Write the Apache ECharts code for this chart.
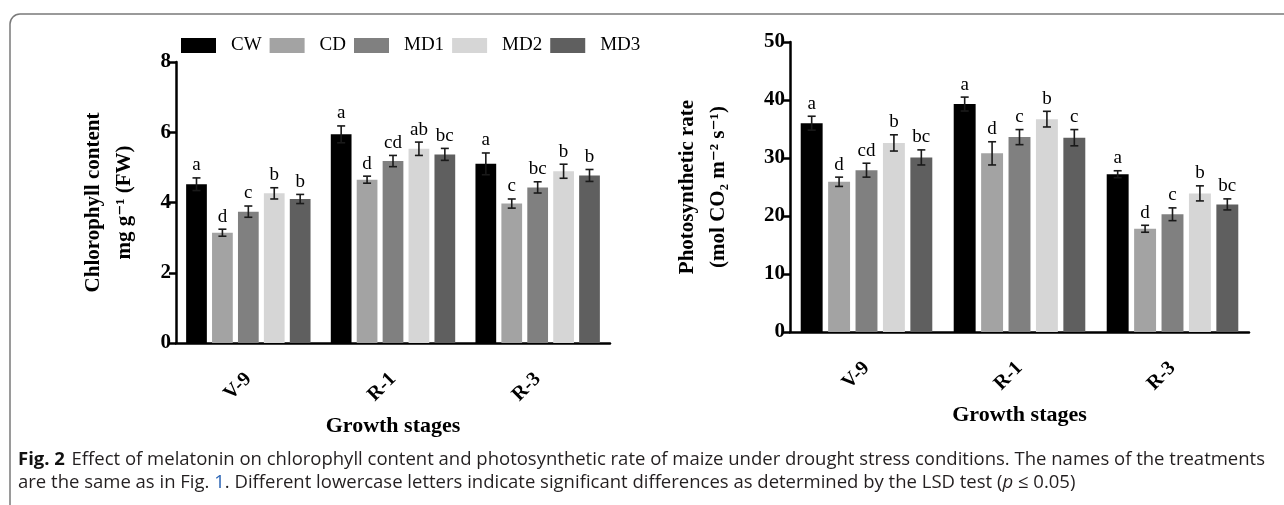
<!DOCTYPE html>
<html>
<head>
<meta charset="utf-8">
<script src="https://cdn.jsdelivr.net/npm/echarts@6/dist/echarts.min.js"></script>
<style>
  html, body { margin: 0; padding: 0; background: #fff; }
  #chart { width: 1284px; height: 505px; }
</style>
</head>
<body>
<div id="chart"></div>
<script>
// categories and treatments
const stages = ['V-9', 'R-1', 'R-3'];
const treatments = ['CW', 'CD', 'MD1', 'MD2', 'MD3'];
const barColors = ['#000000', '#a3a3a3', '#808080', '#d6d6d6', '#5f5f5f'];

// chlorophyll content, one row per treatment (V-9, R-1, R-3)
const chlMean = [[4.52, 5.94, 5.1], [3.14, 4.65, 3.97], [3.74, 5.18, 4.43], [4.26, 5.53, 4.89], [4.1, 5.37, 4.77]];
const chlErr = [[0.18, 0.24, 0.31], [0.1, 0.1, 0.13], [0.16, 0.16, 0.16], [0.16, 0.19, 0.2], [0.13, 0.17, 0.17]];
const chlLetter = [['a', 'a', 'a'], ['d', 'd', 'c'], ['c', 'cd', 'bc'], ['b', 'ab', 'b'], ['b', 'bc', 'b']];

// photosynthetic rate
const psMean = [[36.0, 39.3, 27.2], [25.9, 30.8, 17.8], [27.9, 33.6, 20.3], [32.6, 36.7, 23.9], [30.1, 33.5, 22.0]];
const psErr = [[1.2, 1.2, 0.6], [0.8, 2.0, 0.6], [1.2, 1.3, 1.1], [1.4, 1.35, 1.3], [1.3, 1.4, 0.95]];
const psLetter = [['a', 'a', 'a'], ['d', 'd', 'd'], ['cd', 'c', 'c'], ['b', 'b', 'b'], ['bc', 'c', 'bc']];

// axis ticks
const chlTicks = { min: 0, max: 8, interval: 2 };
const psTicks = { min: 0, max: 50, interval: 10 };

const SERIF = "'Liberation Serif', 'DejaVu Serif', serif";
const SANS = "'Open Sans', 'Noto Sans', sans-serif";
const CAT_GAP = 0.14;
const BAR_GAP = 0.25;

function barSeries(g, means) {
  return treatments.map((name, t) => ({
    name: name,
    type: 'bar',
    xAxisIndex: g,
    yAxisIndex: g,
    barGap: BAR_GAP * 100 + '%',
    barCategoryGap: CAT_GAP * 100 + '%',
    itemStyle: { color: barColors[t] },
    data: means[t]
  }));
}

// error bars + significance letters
function errSeries(g, means, errs, letters) {
  return treatments.map((name, t) => ({
    type: 'custom',
    xAxisIndex: g,
    yAxisIndex: g,
    z: 5,
    silent: true,
    data: stages.map((s, c) => [c, means[t][c], errs[t][c]]),
    renderItem: function (params, api) {
      const c = api.value(0);
      const band = api.size([1, 0])[0];
      const groupW = band * (1 - CAT_GAP);
      const n = treatments.length;
      const barW = groupW / (n + (n - 1) * BAR_GAP);
      const x = api.coord([c, 0])[0] - groupW / 2 + barW / 2 + t * barW * (1 + BAR_GAP);
      const hi = api.coord([c, api.value(1) + api.value(2)])[1];
      const lo = api.coord([c, api.value(1) - api.value(2)])[1];
      const cap = 4;
      const st = { stroke: '#1a1a1a', lineWidth: 1.6 };
      return {
        type: 'group',
        children: [
          { type: 'line', shape: { x1: x, y1: hi, x2: x, y2: lo }, style: st },
          { type: 'line', shape: { x1: x - cap, y1: hi, x2: x + cap, y2: hi }, style: st },
          { type: 'line', shape: { x1: x - cap, y1: lo, x2: x + cap, y2: lo }, style: st },
          {
            type: 'text',
            style: {
              x: x, y: hi - 3,
              text: letters[t][params.dataIndex],
              fill: '#000',
              font: "19px " + SERIF,
              align: 'center',
              verticalAlign: 'bottom'
            }
          }
        ]
      };
    }
  }));
}

function xAxisCfg(g) {
  return {
    type: 'category',
    gridIndex: g,
    data: stages,
    name: 'Growth stages',
    nameLocation: 'middle',
    nameGap: 72,
    nameTextStyle: { fontFamily: SERIF, fontWeight: 'bold', fontSize: 22, color: '#000' },
    axisLine: { lineStyle: { color: '#000', width: 2.5 } },
    axisTick: { alignWithLabel: true, length: 7, lineStyle: { color: '#000', width: 2.5 } },
    axisLabel: { rotate: 45, margin: 33, fontFamily: SERIF, fontWeight: 'bold', fontSize: 20, color: '#000' }
  };
}

function yAxisCfg(g, ticks, name, gap) {
  return {
    type: 'value',
    gridIndex: g,
    min: ticks.min,
    max: ticks.max,
    interval: ticks.interval,
    name: name,
    nameLocation: 'middle',
    nameRotate: 90,
    nameGap: gap,
    nameTextStyle: { fontFamily: SERIF, fontWeight: 'bold', fontSize: 21, color: '#000', lineHeight: 31 },
    axisLine: { show: true, lineStyle: { color: '#000', width: 2.5 } },
    axisTick: { show: true, length: 7, lineStyle: { color: '#000', width: 2.5 } },
    axisLabel: { margin: 5, fontFamily: SERIF, fontWeight: 'bold', fontSize: 21, color: '#000' },
    splitLine: { show: false }
  };
}

const chart = echarts.init(document.getElementById('chart'));

const option = {
  animation: false,
  backgroundColor: '#fff',
  legend: {
    data: treatments,
    left: 176,
    top: 31,
    itemWidth: 35,
    itemHeight: 15,
    itemGap: 8,
    icon: 'rect',
    textStyle: { fontFamily: SERIF, fontSize: 19, color: '#000', padding: [0, 0, 0, 10] }
  },
  grid: [
    { left: 176, right: 674, top: 62, bottom: 162 },
    { left: 790, right: 35, top: 42, bottom: 173 }
  ],
  xAxis: [xAxisCfg(0), xAxisCfg(1)],
  yAxis: [
    yAxisCfg(0, chlTicks, 'Chlorophyll content\nmg g\u207B\u00B9 (FW)', 36),
    yAxisCfg(1, psTicks, 'Photosynthetic rate\n(mol CO\u2082 m\u207B\u00B2 s\u207B\u00B9)', 56)
  ],
  series: [].concat(
    barSeries(0, chlMean),
    barSeries(1, psMean),
    errSeries(0, chlMean, chlErr, chlLetter),
    errSeries(1, psMean, psErr, psLetter)
  ),
  graphic: [
    {
      type: 'rect',
      shape: { x: 10, y: 14, width: 1400, height: 600, r: 10 },
      style: { fill: 'none', stroke: '#7a7a7a', lineWidth: 1.5 },
      silent: true
    },
    {
      type: 'text',
      left: 18,
      top: 448,
      style: {
        text: '{b|Fig. 2}  {n|Effect of melatonin on chlorophyll content and photosynthetic rate of maize under drought stress conditions. The names of the treatments}\n' +
              '{n|are the same as in Fig. }{l|1}{n|. Different lowercase letters indicate significant differences as determined by the LSD test (}{i|p}{n| \u2264 0.05)}',
        lineHeight: 23,
        rich: {
          b: { fontFamily: SANS, fontWeight: 'bold', fontSize: 18.5, fill: '#111' },
          n: { fontFamily: SANS, fontSize: 18.5, fill: '#231f20' },
          l: { fontFamily: SANS, fontSize: 18.5, fill: '#2a64b4' },
          i: { fontFamily: SANS, fontStyle: 'italic', fontSize: 18.5, fill: '#231f20' }
        }
      }
    }
  ]
};

chart.setOption(option);
</script>
</body>
</html>
